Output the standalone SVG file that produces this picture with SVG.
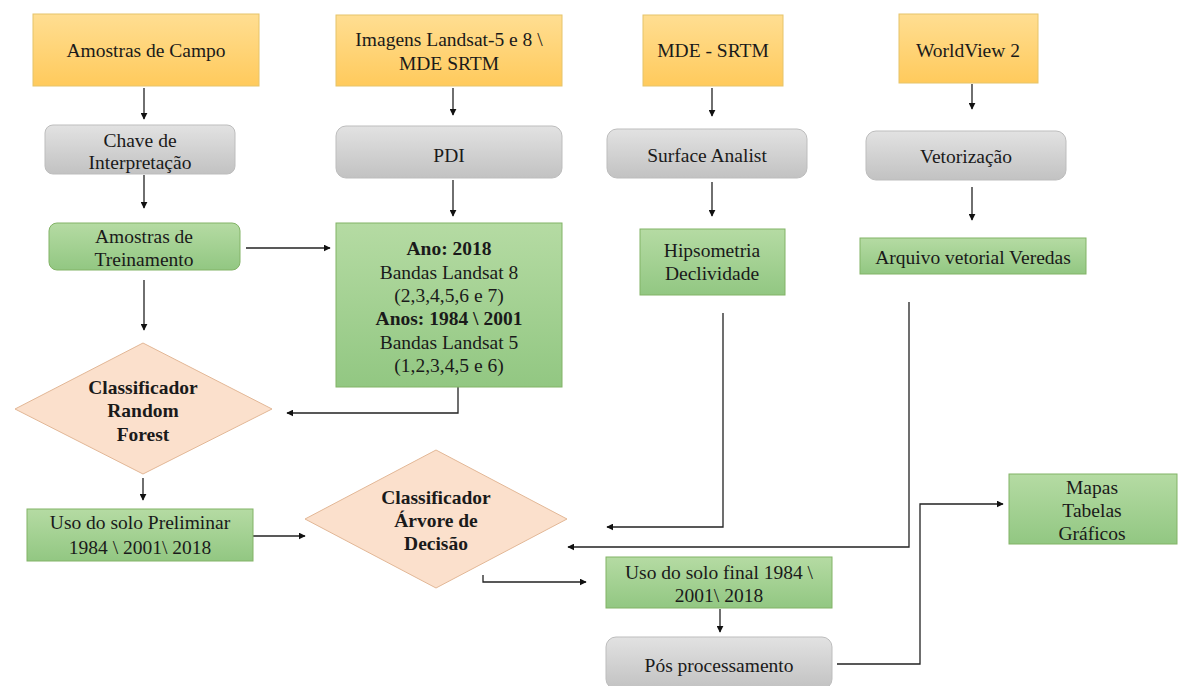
<svg xmlns="http://www.w3.org/2000/svg" width="1181" height="686" viewBox="0 0 1181 686">
<style>
.t{font-family:"Liberation Serif","Times New Roman",serif;font-size:19.5px;fill:#1a1a1a;text-anchor:middle;dominant-baseline:central}
.b{font-weight:bold}
.src{fill:url(#gOr);stroke:#e6c46a;stroke-width:1}
.proc{fill:url(#gGr);stroke:#bdbdbd;stroke-width:1}
.res{fill:url(#gGn);stroke:#82b366;stroke-width:1}
.dec{fill:#fbe0cc;stroke:#e2b796;stroke-width:1}
.c{fill:none;stroke:#222;stroke-width:1.3}
</style>
<defs>
<linearGradient id="gOr" x1="0" y1="0" x2="0" y2="1"><stop offset="0" stop-color="#ffde92"/><stop offset="1" stop-color="#ffca5c"/></linearGradient>
<linearGradient id="gGr" x1="0" y1="0" x2="0" y2="1"><stop offset="0" stop-color="#e2e2e2"/><stop offset="1" stop-color="#c2c2c2"/></linearGradient>
<linearGradient id="gGn" x1="0" y1="0" x2="0" y2="1"><stop offset="0" stop-color="#b5dba3"/><stop offset="1" stop-color="#92c782"/></linearGradient>
<marker id="ar" viewBox="0 0 10 10" refX="9" refY="5" markerWidth="7" markerHeight="7" markerUnits="userSpaceOnUse" orient="auto"><path d="M0,0 L10,5 L0,10 z" fill="#111"/></marker>
</defs>
<rect width="1181" height="686" fill="#fff"/>
<g id="connectors">
<path class="c" d="M144,88 V119" marker-end="url(#ar)"/>
<path class="c" d="M144,175 V208" marker-end="url(#ar)"/>
<path class="c" d="M246,248 H330" marker-end="url(#ar)"/>
<path class="c" d="M144,280 V330" marker-end="url(#ar)"/>
<path class="c" d="M453,88 V115" marker-end="url(#ar)"/>
<path class="c" d="M453,180 V216" marker-end="url(#ar)"/>
<path class="c" d="M712,88 V116" marker-end="url(#ar)"/>
<path class="c" d="M712,182 V216" marker-end="url(#ar)"/>
<path class="c" d="M972,84 V109" marker-end="url(#ar)"/>
<path class="c" d="M972,187 V220" marker-end="url(#ar)"/>
<path class="c" d="M458,387 V413 H287" marker-end="url(#ar)"/>
<path class="c" d="M723,313 V527 H607" marker-end="url(#ar)"/>
<path class="c" d="M909,302 V547 H568" marker-end="url(#ar)"/>
<path class="c" d="M143,478 V500" marker-end="url(#ar)"/>
<path class="c" d="M253,536 H305" marker-end="url(#ar)"/>
<path class="c" d="M483,575 V582 H586" marker-end="url(#ar)"/>
<path class="c" d="M720,609 V632" marker-end="url(#ar)"/>
<path class="c" d="M837,664 H920 V504 H1003" marker-end="url(#ar)"/>
</g>
<g id="amostras-campo"><rect class="src" x="33" y="14" width="226" height="72"/><text class="t" x="146" y="50">Amostras de Campo</text></g>
<g id="imagens-landsat"><rect class="src" x="336" y="15" width="226" height="71"/><text class="t" x="449" y="39">Imagens Landsat-5 e 8 \</text><text class="t" x="449" y="63">MDE SRTM</text></g>
<g id="mde-srtm"><rect class="src" x="643" y="15" width="140" height="71"/><text class="t" x="713" y="50">MDE - SRTM</text></g>
<g id="worldview"><rect class="src" x="899" y="14" width="139" height="69"/><text class="t" x="968" y="50">WorldView 2</text></g>
<g id="chave"><rect class="proc" x="45" y="125" width="190" height="49" rx="8"/><text class="t" x="140" y="140">Chave de</text><text class="t" x="140" y="162">Interpretação</text></g>
<g id="pdi"><rect class="proc" x="336" y="126" width="226" height="52" rx="10"/><text class="t" x="449" y="155">PDI</text></g>
<g id="surface"><rect class="proc" x="607" y="129" width="200" height="49" rx="10"/><text class="t" x="707" y="155">Surface Analist</text></g>
<g id="vetorizacao"><rect class="proc" x="866" y="131" width="200" height="49" rx="10"/><text class="t" x="966" y="156">Vetorização</text></g>
<g id="amostras-treino"><rect class="res" x="49" y="223" width="191" height="47" rx="8"/><text class="t" x="144" y="236">Amostras de</text><text class="t" x="144" y="259">Treinamento</text></g>
<g id="bandas"><rect class="res" x="336" y="223" width="226" height="164"/>
<text class="t b" x="449" y="248">Ano: 2018</text><text class="t" x="449" y="272">Bandas Landsat 8</text><text class="t" x="449" y="295">(2,3,4,5,6 e 7)</text>
<text class="t b" x="449" y="318">Anos: 1984 \ 2001</text><text class="t" x="449" y="342">Bandas Landsat 5</text><text class="t" x="449" y="365">(1,2,3,4,5 e 6)</text></g>
<g id="hipsometria"><rect class="res" x="640" y="229" width="145" height="66"/><text class="t" x="712" y="250">Hipsometria</text><text class="t" x="712" y="273">Declividade</text></g>
<g id="arquivo"><rect class="res" x="860" y="238" width="226" height="36"/><text class="t" x="973" y="257">Arquivo vetorial Veredas</text></g>
<g id="random-forest"><polygon class="dec" points="143,343 272,409 143,474 15,409"/><text class="t b" x="143" y="387">Classificador</text><text class="t b" x="143" y="410">Random</text><text class="t b" x="143" y="434">Forest</text></g>
<g id="uso-preliminar"><rect class="res" x="27" y="509" width="226" height="52"/><text class="t" x="140" y="522">Uso do solo Preliminar</text><text class="t" x="140" y="547">1984 \ 2001\ 2018</text></g>
<g id="arvore-decisao"><polygon class="dec" points="436,450 567,519 436,588 305,519"/><text class="t b" x="436" y="497">Classificador</text><text class="t b" x="436" y="520">Árvore de</text><text class="t b" x="436" y="543">Decisão</text></g>
<g id="uso-final"><rect class="res" x="606" y="557" width="226" height="51"/><text class="t" x="719" y="572">Uso do solo final 1984 \</text><text class="t" x="719" y="595">2001\ 2018</text></g>
<g id="pos-processamento"><rect class="proc" x="606" y="637" width="226" height="52" rx="10"/><text class="t" x="719" y="665">Pós processamento</text></g>
<g id="mapas"><rect class="res" x="1009" y="474" width="168" height="70"/><text class="t" x="1092" y="487">Mapas</text><text class="t" x="1092" y="510">Tabelas</text><text class="t" x="1092" y="533">Gráficos</text></g>
</svg>
